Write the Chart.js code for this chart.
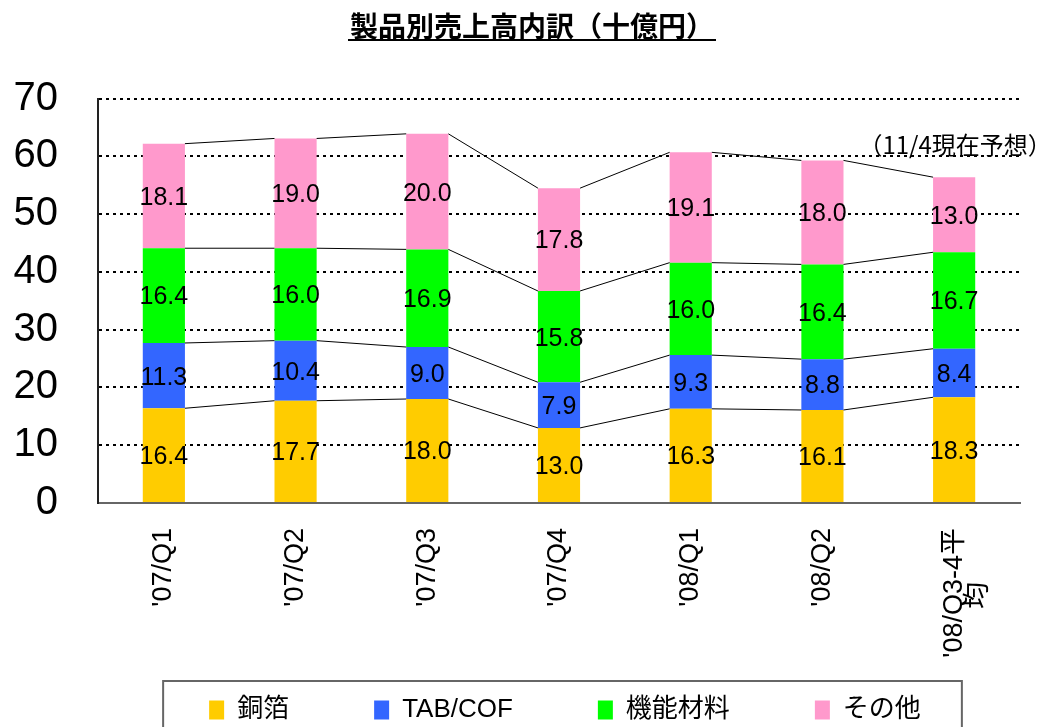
<!DOCTYPE html>
<html lang="ja">
<head>
<meta charset="utf-8">
<title>製品別売上高内訳</title>
<script src="https://cdn.jsdelivr.net/npm/chart.js@4.4.1/dist/chart.umd.min.js"></script>
<style>
  html, body { margin: 0; padding: 0; background: #fff; }
</style>
</head>
<body>
<canvas id="salesChart" width="1064" height="727"></canvas>
<script>
// values in billions of yen
const categories = ["'07/Q1", "'07/Q2", "'07/Q3", "'07/Q4", "'08/Q1", "'08/Q2", ["'08/Q3-4平", "均　　"]];
const copperFoil = [16.4, 17.7, 18.0, 13.0, 16.3, 16.1, 18.3];
const tabCof = [11.3, 10.4, 9.0, 7.9, 9.3, 8.8, 8.4];
const functionalMaterials = [16.4, 16.0, 16.9, 15.8, 16.0, 16.4, 16.7];
const others = [18.1, 19.0, 20.0, 17.8, 19.1, 18.0, 13.0];
const seriesNames = ["銅箔", "TAB/COF", "機能材料", "その他"];
const seriesColors = ["#FFCC00", "#3366FF", "#00FF00", "#FF99CC"];
const chartTitle = "製品別売上高内訳（十億円）";
const forecastNote = "（11/4現在予想）";

Chart.defaults.font.family = "'Liberation Sans', 'Noto Sans CJK JP', sans-serif";
Chart.defaults.color = "#000";

const TITLE_FONT = "bold 28px 'Noto Sans CJK JP', sans-serif";

// thin lines joining the top of each segment to the same segment of the next bar
const seriesLines = {
  id: "seriesLines",
  afterDatasetsDraw(chart) {
    const ctx = chart.ctx;
    ctx.save();
    ctx.strokeStyle = "#000";
    ctx.lineWidth = 1;
    chart.data.datasets.forEach((ds, d) => {
      const bars = chart.getDatasetMeta(d).data;
      for (let i = 0; i < bars.length - 1; i++) {
        const a = bars[i], b = bars[i + 1];
        ctx.beginPath();
        ctx.moveTo(a.x + a.width / 2, a.y);
        ctx.lineTo(b.x - b.width / 2, b.y);
        ctx.stroke();
      }
    });
    ctx.restore();
  }
};

// value printed in the middle of each segment, plus the forecast note
const segmentLabels = {
  id: "segmentLabels",
  afterDatasetsDraw(chart) {
    const ctx = chart.ctx;
    ctx.save();
    ctx.font = "25px 'Liberation Sans', sans-serif";
    ctx.fillStyle = "#000";
    ctx.textAlign = "center";
    ctx.textBaseline = "middle";
    chart.data.datasets.forEach((ds, d) => {
      chart.getDatasetMeta(d).data.forEach((bar, i) => {
        ctx.fillText(ds.data[i].toFixed(1), bar.x, (bar.y + bar.base) / 2 + 2);
      });
    });
    const lastMeta = chart.getDatasetMeta(chart.data.datasets.length - 1);
    const last = lastMeta.data[lastMeta.data.length - 1];
    ctx.font = "24px 'Noto Sans CJK JP', sans-serif";
    ctx.fillText(forecastNote, last.x + 1, last.y - 32);
    ctx.restore();
  }
};

// title underline and legend frame; also nudges title and legend into place
const frames = {
  id: "frames",
  afterLayout(chart) {
    const tb = chart.titleBlock;
    tb.left += 22;
    tb.right += 22;
    const lg = chart.legend;
    lg.left += 55;
    lg.right += 55;
    lg.top = chart.height - 115;
  },
  afterDraw(chart) {
    const ctx = chart.ctx;
    ctx.save();
    const tb = chart.titleBlock;
    ctx.font = TITLE_FONT;
    const w = ctx.measureText(chartTitle).width;
    const cx = (tb.left + tb.right) / 2;
    ctx.fillStyle = "#000";
    ctx.fillRect(cx - w / 2 - 2, 39, w + 4, 2);

    const boxes = chart.legend.legendHitBoxes;
    if (boxes && boxes.length) {
      const first = boxes[0], last = boxes[boxes.length - 1];
      const left = first.left - 46;
      const right = last.left + last.width + 41;
      ctx.strokeStyle = "#666";
      ctx.lineWidth = 2;
      ctx.strokeRect(left, 681, right - left, 80);
    }
    ctx.restore();
  }
};

const ctx = document.getElementById("salesChart").getContext("2d");
const seriesData = [copperFoil, tabCof, functionalMaterials, others];

new Chart(ctx, {
  type: "bar",
  data: {
    labels: categories,
    datasets: seriesData.map((values, i) => ({
      label: seriesNames[i],
      data: values,
      backgroundColor: seriesColors[i],
      borderWidth: 0,
      barPercentage: 0.32,
      categoryPercentage: 1.0
    }))
  },
  options: {
    responsive: false,
    animation: false,
    events: [],
    layout: { padding: { left: 0, right: 44, top: 0, bottom: 0 } },
    scales: {
      x: {
        stacked: true,
        grid: { display: true, drawOnChartArea: false, drawTicks: false },
        border: { display: true, color: "#666", width: 2 },
        ticks: {
          color: "#000",
          font: { size: 27, lineHeight: 0.9 },
          minRotation: 90,
          maxRotation: 90,
          autoSkip: false,
          padding: 25
        },
        afterFit: (scale) => { scale.height = 160; }
      },
      y: {
        stacked: true,
        min: 0,
        max: 70,
        ticks: {
          stepSize: 10,
          padding: 40,
          color: "#000",
          font: { size: 40, family: "'Liberation Sans', sans-serif" }
        },
        grid: {
          drawTicks: false,
          lineWidth: 2,
          color: (c) => (c.tick && c.tick.value === 0 ? "rgba(0,0,0,0)" : "#000")
        },
        border: { display: true, color: "#222", width: 2, dash: [3, 4] },
        afterFit: (scale) => { scale.width = 98; }
      }
    },
    plugins: {
      title: {
        display: true,
        text: chartTitle,
        color: "#000",
        font: { size: 28, weight: "bold", family: "'Noto Sans CJK JP', sans-serif" },
        padding: { top: 10, bottom: 55 }
      },
      legend: {
        position: "bottom",
        maxHeight: 64,
        labels: {
          color: "#000",
          font: { size: 26 },
          boxWidth: 15,
          boxHeight: 19,
          padding: 85
        }
      },
      tooltip: { enabled: false }
    }
  },
  plugins: [seriesLines, segmentLabels, frames]
});
</script>
</body>
</html>
